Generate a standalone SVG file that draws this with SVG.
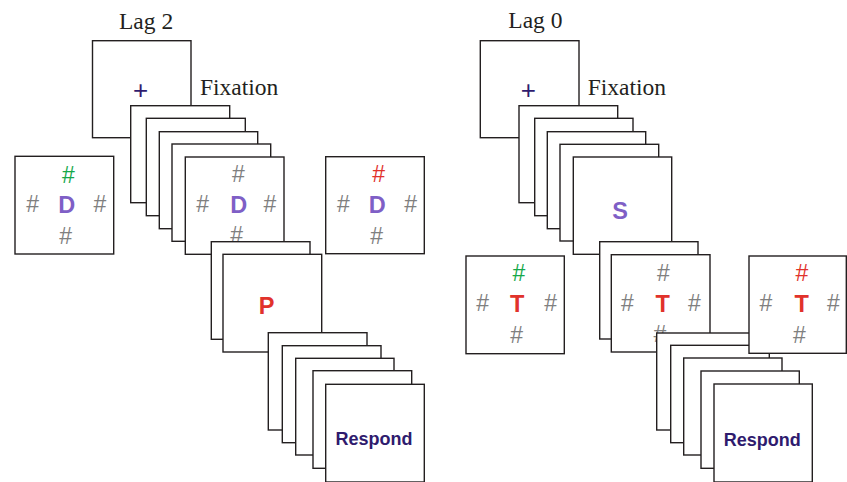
<svg xmlns="http://www.w3.org/2000/svg" width="847" height="482" viewBox="0 0 847 482">
<style>
.box{fill:#fff;stroke:#231f20;stroke-width:1.4}
.t{font-family:"Liberation Serif","Times New Roman",serif;font-size:23.5px;fill:#231f20}
.h{font-family:"Liberation Sans",Arial,sans-serif;font-size:23px;fill:#808080;text-anchor:middle}
.b{font-family:"Liberation Sans",Arial,sans-serif;font-weight:bold;font-size:23.5px;text-anchor:middle}
.pu{fill:#7f5fc6}
.rd{fill:#e1322b}
.gr{fill:#16a84a}
.rs{font-family:"Liberation Sans",Arial,sans-serif;font-weight:bold;font-size:18px;text-anchor:middle;fill:#2f1b6e}
.pl{font-family:"Liberation Sans",Arial,sans-serif;font-size:26px;text-anchor:middle;fill:#2f1b6e}
</style>
<rect width="847" height="482" fill="#fff"/>
<!-- Left panel: Lag 2 -->
<text class="t" x="119" y="29">Lag 2</text>
<g id="fix-l">
<rect class="box" x="92.5" y="40.7" width="98.5" height="97"/>
<text class="pl" x="140.5" y="98.8">+</text>
</g>
<text class="t" x="200" y="95">Fixation</text>
<g id="stack-l1">
<rect class="box" x="130.7" y="105.7" width="99" height="97"/>
<rect class="box" x="146.3" y="118.3" width="99" height="97.4"/>
<rect class="box" x="159.3" y="131.7" width="98.4" height="97"/>
<rect class="box" x="172" y="144" width="98.7" height="97.3"/>
</g>
<g id="d-mid">
<rect class="box" x="185.3" y="157" width="98.7" height="97.3"/>
<text class="h" x="238.3" y="182">#</text>
<text class="h" x="202.7" y="212">#</text>
<text class="b pu" x="238.7" y="212.8">D</text>
<text class="h" x="270" y="212">#</text>
<text class="h" x="236.7" y="243.3">#</text>
</g>
<g id="d-left">
<rect class="box" x="15" y="156.3" width="98.7" height="97.7"/>
<text class="h gr" x="68.3" y="182.5">#</text>
<text class="h" x="32.7" y="212">#</text>
<text class="b pu" x="66.7" y="212.8">D</text>
<text class="h" x="100" y="212">#</text>
<text class="h" x="65.7" y="244">#</text>
</g>
<g id="d-right">
<rect class="box" x="325.7" y="156.7" width="98.6" height="97"/>
<text class="h rd" x="378.7" y="182">#</text>
<text class="h" x="343.3" y="212">#</text>
<text class="b pu" x="377.3" y="212.8">D</text>
<text class="h" x="410.7" y="212">#</text>
<text class="h" x="376.7" y="243.6">#</text>
</g>
<g id="p-back">
<rect class="box" x="211.3" y="241.7" width="98.7" height="97.6"/>
</g>
<g id="p-box">
<rect class="box" x="223" y="254.3" width="98.7" height="97.7"/>
<text class="b rd" x="266.7" y="313.5">P</text>
</g>
<g id="stack-l2">
<rect class="box" x="268.3" y="332.7" width="98.7" height="97.3"/>
<rect class="box" x="282.3" y="345.7" width="98.7" height="97"/>
<rect class="box" x="295.7" y="358.3" width="98.3" height="96.7"/>
<rect class="box" x="313" y="370.7" width="98.7" height="97.6"/>
</g>
<g id="respond-l">
<rect class="box" x="325.7" y="384.3" width="98.6" height="97.7"/>
<text class="rs" x="374" y="444.7">Respond</text>
</g>
<!-- Right panel: Lag 0 -->
<text class="t" x="508.3" y="28">Lag 0</text>
<g id="fix-r">
<rect class="box" x="480.3" y="40.7" width="98.7" height="97"/>
<text class="pl" x="528.3" y="98.8">+</text>
</g>
<text class="t" x="587.7" y="95">Fixation</text>
<g id="stack-r1">
<rect class="box" x="519" y="105.7" width="98.7" height="97"/>
<rect class="box" x="534.7" y="118.3" width="98.3" height="97.4"/>
<rect class="box" x="547.3" y="131.7" width="98.4" height="97"/>
<rect class="box" x="560" y="144.3" width="98.7" height="96.7"/>
</g>
<g id="s-box">
<rect class="box" x="573.3" y="157" width="98.4" height="97.3"/>
<text class="b pu" x="620" y="218.5">S</text>
</g>
<g id="t-back">
<rect class="box" x="599.7" y="241.7" width="98.3" height="97.3"/>
</g>
<g id="t-mid">
<rect class="box" x="611.3" y="254.7" width="98.7" height="97.3"/>
<text class="h" x="663.3" y="281.3">#</text>
<text class="h" x="627.3" y="311.3">#</text>
<text class="b rd" x="662.7" y="311.8">T</text>
<text class="h" x="694.3" y="311.3">#</text>
<text class="h" x="660" y="341.5">#</text>
</g>
<g id="t-left">
<rect class="box" x="466" y="256" width="98.3" height="97.7"/>
<text class="h gr" x="519" y="281.3">#</text>
<text class="h" x="482.7" y="311.3">#</text>
<text class="b rd" x="517.3" y="311.8">T</text>
<text class="h" x="550.7" y="311.3">#</text>
<text class="h" x="516.7" y="343">#</text>
</g>
<g id="stack-r2">
<rect class="box" x="656.7" y="333" width="98.7" height="97"/>
<rect class="box" x="670.7" y="345.3" width="98.6" height="97.4"/>
<rect class="box" x="683.7" y="358" width="98.3" height="97"/>
<rect class="box" x="701" y="371" width="98.3" height="97.3"/>
</g>
<g id="respond-r">
<rect class="box" x="714" y="384" width="98.3" height="98"/>
<text class="rs" x="762.2" y="445.5">Respond</text>
</g>
<g id="t-right">
<rect class="box" x="749" y="256" width="97.3" height="97.3"/>
<text class="h rd" x="802" y="281.3">#</text>
<text class="h" x="766" y="311.3">#</text>
<text class="b rd" x="801.7" y="311.8">T</text>
<text class="h" x="833.3" y="311.3">#</text>
<text class="h" x="799.3" y="343">#</text>
</g>
</svg>
